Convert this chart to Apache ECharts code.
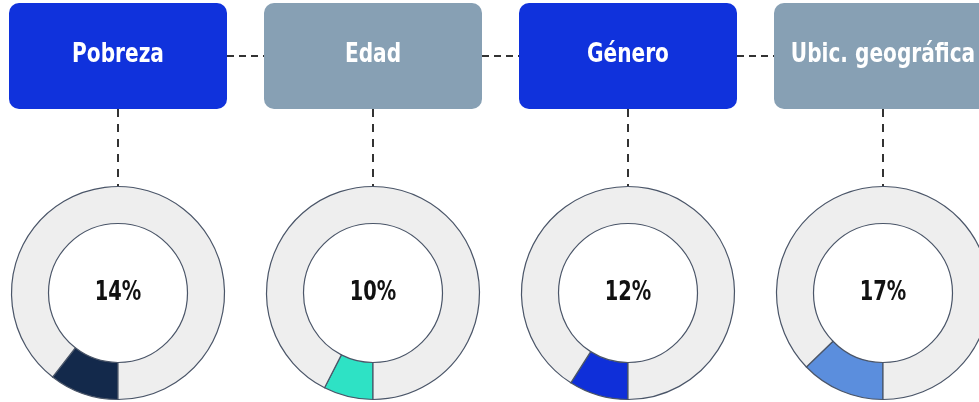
<!DOCTYPE html>
<html>
<head>
<meta charset="utf-8">
<script src="https://cdn.jsdelivr.net/npm/echarts@6/dist/echarts.min.js"></script>
<style>
  html, body { margin: 0; padding: 0; background: #fff; }
  #chart { width: 979px; height: 402px; }
</style>
</head>
<body>
<div id="chart"></div>
<script>
// categories and values
const categories = ['Pobreza', 'Edad', 'Género', 'Ubic. geográfica'];
const percents = [14, 10, 12, 17];
// the full ring stands for this many units in the original graphic
const ringTotal = 133;

const boxColors = ['#1032DC', '#87A0B4', '#1032DC', '#87A0B4'];
const sliceColors = ['#13294B', '#2EE2C5', '#0F2FD9', '#5B8EDD'];

const FONT = "'DejaVu Sans Condensed', 'Roboto', sans-serif";
const boxLeft = [9, 264, 519, 774];
const boxW = 218, boxTop = 3, boxH = 106;
const lineY = 56;
const donutY = 293, rIn = 69.5, rOut = 106.5;

const chart = echarts.init(document.getElementById('chart'));

const graphics = [];

// horizontal connectors between the boxes
for (let i = 0; i < categories.length - 1; i++) {
  graphics.push({
    type: 'line',
    shape: { x1: boxLeft[i] + boxW, y1: lineY, x2: boxLeft[i + 1], y2: lineY },
    style: { stroke: '#333', lineWidth: 2, lineDash: [7, 5] },
    z: 1
  });
}

categories.forEach((name, i) => {
  const cx = boxLeft[i] + boxW / 2;
  // vertical connector from box to donut
  graphics.push({
    type: 'line',
    shape: { x1: cx, y1: boxTop + boxH, x2: cx, y2: donutY - rOut },
    style: { stroke: '#333', lineWidth: 2, lineDash: [8, 7] },
    z: 1
  });
  graphics.push({
    type: 'rect',
    shape: { x: boxLeft[i], y: boxTop, width: boxW, height: boxH, r: 10 },
    style: { fill: boxColors[i] },
    z: 2
  });
  graphics.push({
    type: 'text',
    x: cx,
    y: lineY - 1,
    scaleX: 0.86,
    style: {
      text: name,
      x: 0,
      y: 0,
      fill: '#fff',
      font: 'bold 26px ' + FONT,
      textAlign: 'center',
      textVerticalAlign: 'middle'
    },
    z: 3
  });
  // value in the middle of the ring
  graphics.push({
    type: 'text',
    x: cx,
    y: donutY,
    scaleX: 0.8,
    style: {
      text: percents[i] + '%',
      x: 0,
      y: 0,
      fill: '#111',
      font: 'bold 27px ' + FONT,
      textAlign: 'center',
      textVerticalAlign: 'middle'
    },
    z: 10
  });
});

const series = percents.map((p, i) => ({
  type: 'pie',
  center: [boxLeft[i] + boxW / 2, donutY],
  radius: [rIn, rOut],
  startAngle: 270,
  clockwise: true,
  silent: true,
  animation: false,
  labelLine: { show: false },
  label: { show: false },
  itemStyle: { borderColor: '#4A5568', borderWidth: 1.2 },
  data: [
    { value: p, itemStyle: { color: sliceColors[i] } },
    { value: ringTotal - p, itemStyle: { color: '#EEEEEE' } }
  ]
}));

chart.setOption({
  animation: false,
  graphic: graphics,
  series: series
});
</script>
</body>
</html>
